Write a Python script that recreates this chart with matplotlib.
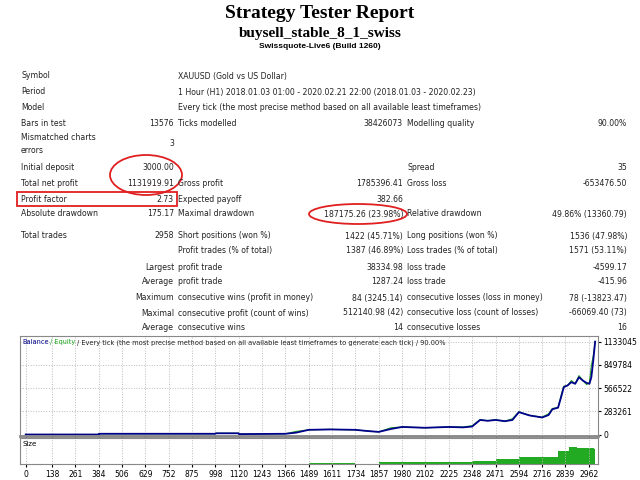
import matplotlib
matplotlib.use("Agg")
import matplotlib.pyplot as plt
from matplotlib.patches import Ellipse, Rectangle
import numpy as np

W, H = 640, 480
# Balance curve (trade #, balance)
bal_x = [0, 384, 386, 998, 1000, 1120, 1122, 1366, 1420, 1489, 1600, 1734, 1800, 1857, 1920, 1980, 2100, 2225, 2300, 2348, 2390, 2430, 2471, 2520, 2560, 2594, 2650, 2716, 2750, 2770, 2800, 2815, 2830, 2850, 2870, 2890, 2910, 2930, 2950, 2965, 2975, 2985, 2995]
bal_y = [3000, 3000, 12000, 12000, 18000, 18000, 8000, 12000, 25000, 60000, 65000, 60000, 45000, 35000, 70000, 95000, 85000, 95000, 90000, 100000, 180000, 170000, 180000, 165000, 180000, 275000, 235000, 210000, 240000, 310000, 330000, 450000, 580000, 600000, 640000, 620000, 700000, 660000, 630000, 620000, 700000, 900000, 1133045]
# Equity sampled at the same trades
eq_y = [3000, 3000, 12000, 12000, 18000, 18000, 8000, 12000, 40000, 60000, 65000, 60000, 45000, 35000, 85000, 95000, 85000, 95000, 95000, 110000, 185000, 170000, 185000, 165000, 195000, 280000, 235000, 215000, 255000, 320000, 330000, 470000, 590000, 600000, 660000, 620000, 720000, 660000, 610000, 640000, 840000, 960000, 1133045]
vol_x = [0, 1489, 1734, 1857, 2348, 2471, 2594, 2716, 2800, 2860, 2900, 2990, 2996]
vol_y = [0, 0.04, 0.0, 0.07, 0.13, 0.2, 0.27, 0.3, 0.52, 0.7, 0.66, 0.6, 1.0]
xticks = [0, 138, 261, 384, 506, 629, 752, 875, 998, 1120, 1243, 1366, 1489, 1611, 1734, 1857, 1980, 2102, 2225, 2348, 2471, 2594, 2716, 2839, 2962]
yticks = [0, 283261, 566522, 849784, 1133045]

rows = [
    (76, "Symbol", "", "XAUUSD (Gold vs US Dollar)", "", "", ""),
    (92, "Period", "", "1 Hour (H1) 2018.01.03 01:00 - 2020.02.21 22:00 (2018.01.03 - 2020.02.23)", "", "", ""),
    (107, "Model", "", "Every tick (the most precise method based on all available least timeframes)", "", "", ""),
    (123, "Bars in test", "13576", "Ticks modelled", "38426073", "Modelling quality", "90.00%"),
    (144, "Mismatched charts\nerrors", "3", "", "", "", ""),
    (168, "Initial deposit", "3000.00", "", "", "Spread", "35"),
    (184, "Total net profit", "1131919.91", "Gross profit", "1785396.41", "Gross loss", "-653476.50"),
    (199, "Profit factor", "2.73", "Expected payoff", "382.66", "", ""),
    (214, "Absolute drawdown", "175.17", "Maximal drawdown", "187175.26 (23.98%)", "Relative drawdown", "49.86% (13360.79)"),
    (236, "Total trades", "2958", "Short positions (won %)", "1422 (45.71%)", "Long positions (won %)", "1536 (47.98%)"),
    (251, "", "", "Profit trades (% of total)", "1387 (46.89%)", "Loss trades (% of total)", "1571 (53.11%)"),
    (267, "", "Largest", "profit trade", "38334.98", "loss trade", "-4599.17"),
    (282, "", "Average", "profit trade", "1287.24", "loss trade", "-415.96"),
    (298, "", "Maximum", "consecutive wins (profit in money)", "84 (3245.14)", "consecutive losses (loss in money)", "78 (-13823.47)"),
    (313, "", "Maximal", "consecutive profit (count of wins)", "512140.98 (42)", "consecutive loss (count of losses)", "-66069.40 (73)"),
    (328, "", "Average", "consecutive wins", "14", "consecutive losses", "16"),
]

fig = plt.figure(figsize=(6.4, 4.8), dpi=100)
fig.patch.set_facecolor("white")
fx = lambda x: x / W
fy = lambda y: 1 - y / H

fig.text(0.5, fy(14), "Strategy Tester Report", ha="center", va="center", family="Liberation Serif", weight="bold", fontsize=14)
fig.text(0.5, fy(33), "buysell_stable_8_1_swiss", ha="center", va="center", family="Liberation Serif", weight="bold", fontsize=11)
fig.text(0.5, fy(47), "Swissquote-Live6 (Build 1260)", ha="center", va="center", family="Liberation Sans", weight="bold", fontsize=6)

fs = 5.6
for y, a, b, c, d, e, f in rows:
    kw = dict(va="center", fontsize=fs, family="DejaVu Sans", color="#222222")
    if a: fig.text(fx(21), fy(y), a, ha="left", linespacing=1.5, **kw)
    if b: fig.text(fx(174), fy(y), b, ha="right", **kw)
    if c: fig.text(fx(178), fy(y), c, ha="left", **kw)
    if d: fig.text(fx(403), fy(y), d, ha="right", **kw)
    if e: fig.text(fx(407), fy(y), e, ha="left", **kw)
    if f: fig.text(fx(627), fy(y), f, ha="right", **kw)

fig.add_artist(Ellipse((fx(146), fy(175)), fx(72), 40 / H, fill=False, ec="#e02020", lw=1.3, transform=fig.transFigure))
fig.add_artist(Rectangle((fx(17), fy(206)), fx(160), 14 / H, fill=False, ec="#e02020", lw=1.3, transform=fig.transFigure))
fig.add_artist(Ellipse((fx(358), fy(214)), fx(98), 20 / H, fill=False, ec="#e02020", lw=1.3, transform=fig.transFigure))

ax = fig.add_axes([fx(20), fy(436), fx(578), (436 - 336) / H])
ax.plot(bal_x, eq_y, color="#22aa22", lw=0.8)
ax.plot(bal_x, bal_y, color="#00008b", lw=1.3)
ax.set_xlim(-30, 3010)
ax.set_ylim(-15000, 1133045 * 1.06)
ax.yaxis.tick_right()
ax.set_yticks(yticks)
ax.set_yticklabels([str(v) for v in yticks], fontsize=5.5)
ax.set_xticks(xticks)
ax.set_xticklabels([])
ax.grid(True, ls=":", color="#bbbbbb", lw=0.7)
ax.tick_params(length=2, pad=2)
for s in ax.spines.values():
    s.set_color("#888888")
ax.spines["bottom"].set_linewidth(2)
ax.text(0.004, 0.97, "Balance", color="#00008b", transform=ax.transAxes, fontsize=4.8, va="top")
ax.text(0.052, 0.97, "/ Equity", color="#22aa22", transform=ax.transAxes, fontsize=4.8, va="top")
ax.text(0.098, 0.97, "/ Every tick (the most precise method based on all available least timeframes to generate each tick) / 90.00%", color="#222222", transform=ax.transAxes, fontsize=4.8, va="top")

av = fig.add_axes([fx(20), fy(464), fx(578), (464 - 438) / H])
av.fill_between(vol_x, vol_y, step="post", color="#22aa22", lw=0)
av.set_xlim(-30, 3010)
av.set_ylim(0, 1.05)
av.set_yticks([])
av.set_xticks(xticks)
av.set_xticklabels([str(v) for v in xticks], fontsize=5.5)
av.grid(True, axis="x", ls=":", color="#bbbbbb", lw=0.7)
av.tick_params(length=2, pad=2)
for s in av.spines.values():
    s.set_color("#888888")
av.text(0.005, 0.9, "Size", transform=av.transAxes, fontsize=5, va="top")

fig.savefig("out.png", dpi=100)
